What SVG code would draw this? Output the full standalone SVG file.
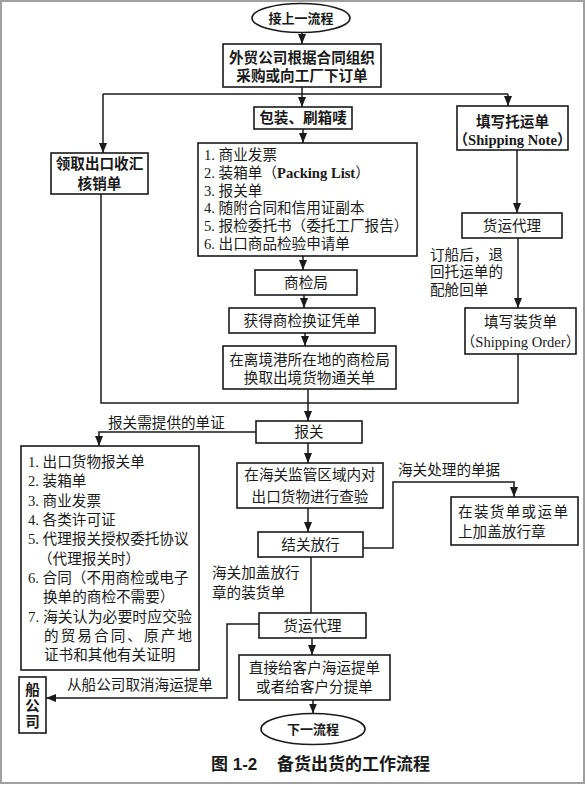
<svg xmlns="http://www.w3.org/2000/svg" width="585" height="785" viewBox="0 0 585 785">
<defs>
<marker id="ah" markerUnits="userSpaceOnUse" markerWidth="10" markerHeight="8" refX="10" refY="4" orient="auto">
<path d="M0,0 L10,4 L0,8 z" fill="#1a1a1a"/>
</marker>
<style>
.b{fill:#fff;stroke:#1a1a1a;stroke-width:1.6}
.ln{fill:none;stroke:#1a1a1a;stroke-width:1.5}
.ar{fill:none;stroke:#1a1a1a;stroke-width:1.5;marker-end:url(#ah)}
.t{font-family:"Liberation Serif","Noto Sans CJK SC",serif;font-size:14.6px;fill:#1a1a1a}
.c{text-anchor:middle}
.bd{font-weight:bold}
.e{font-family:"Noto Sans CJK SC",sans-serif;font-size:13px;font-weight:bold;fill:#1a1a1a;text-anchor:middle}
.cap{font-family:"Liberation Sans","Noto Sans CJK SC",sans-serif;font-size:17px;font-weight:bold;fill:#1a1a1a}
</style>
</defs>
<rect x="1" y="1" width="583" height="782" fill="#fff" stroke="#a0a0a0" stroke-width="2"/>

<g id="connectors">
<path class="ar" d="M302,32.5 V44"/>
<path class="ar" d="M302,87 V107"/>
<path class="ln" d="M103,94 H508"/>
<path class="ar" d="M103,94 V153"/>
<path class="ar" d="M508,94 V106"/>
<path class="ar" d="M303,129 V143"/>
<path class="ar" d="M303,256 V270"/>
<path class="ar" d="M304,295 V308"/>
<path class="ar" d="M305,333 V346"/>
<path class="ln" d="M101,194 V403 H518 V354"/>
<path class="ar" d="M308,389 V421"/>
<path class="ar" d="M517,150 V213"/>
<path class="ar" d="M518,238 V308"/>
<path class="ar" d="M256,432 H99 V446"/>
<path class="ar" d="M308,443 V463"/>
<path class="ar" d="M308,508 V532"/>
<path class="ar" d="M363,548 H393 V482 H514 V497"/>
<path class="ln" d="M311,557 V613"/>
<path class="ar" d="M259,624 H227 V698 H46"/>
<path class="ar" d="M312,638 V655"/>
<path class="ar" d="M313,700 V713.5"/>
</g>

<g id="start">
<ellipse class="b" cx="301" cy="18" rx="49" ry="14.5"/>
<text class="e" x="301" y="23">接上一流程</text>
</g>

<g id="order">
<rect class="b" x="223" y="44" width="158" height="43"/>
<text class="t c bd" x="302" y="63">外贸公司根据合同组织</text>
<text class="t c bd" x="302" y="81">采购或向工厂下订单</text>
</g>

<g id="pack">
<rect class="b" x="254" y="107" width="98" height="22"/>
<text class="t c bd" x="303" y="123">包装、刷箱唛</text>
</g>

<g id="shipnote">
<rect class="b" x="457" y="106" width="111" height="44"/>
<text class="t c bd" x="512.5" y="127">填写托运单</text>
<text class="t c bd" x="512.5" y="145">（Shipping Note）</text>
</g>

<g id="verification">
<rect class="b" x="51" y="153" width="97" height="41"/>
<text class="t c bd" x="99.5" y="169">领取出口收汇</text>
<text class="t c bd" x="99.5" y="189">核销单</text>
</g>

<g id="doclist">
<rect class="b" x="198" y="143" width="219" height="113"/>
<text class="t" x="204" y="160">1. 商业发票</text>
<text class="t" x="204" y="178">2. 装箱单（<tspan class="bd">Packing List</tspan>）</text>
<text class="t" x="204" y="196">3. 报关单</text>
<text class="t" x="204" y="213">4. 随附合同和信用证副本</text>
<text class="t" x="204" y="231">5. 报检委托书（委托工厂报告）</text>
<text class="t" x="204" y="249">6. 出口商品检验申请单</text>
</g>

<g id="ciq">
<rect class="b" x="255" y="270" width="102" height="25"/>
<text class="t c" x="306" y="288">商检局</text>
</g>

<g id="voucher">
<rect class="b" x="229" y="308" width="146" height="25"/>
<text class="t c" x="302" y="326">获得商检换证凭单</text>
</g>

<g id="clearance">
<rect class="b" x="223" y="346" width="173" height="43"/>
<text class="t c" x="309.5" y="365">在离境港所在地的商检局</text>
<text class="t c" x="309.5" y="383">换取出境货物通关单</text>
</g>

<g id="forwarder1">
<rect class="b" x="462" y="213" width="100" height="25"/>
<text class="t c" x="512" y="231">货运代理</text>
</g>

<g id="note1">
<text class="t" x="430" y="260">订船后，退</text>
<text class="t" x="430" y="277">回托运单的</text>
<text class="t" x="430" y="295">配舱回单</text>
</g>

<g id="shiporder">
<rect class="b" x="465" y="308" width="111" height="46"/>
<text class="t c" x="520.5" y="327">填写装货单</text>
<text class="t c" x="520.5" y="347">（Shipping Order）</text>
</g>

<g id="declare">
<rect class="b" x="256" y="421" width="106" height="22"/>
<text class="t c" x="309" y="437">报关</text>
</g>

<g id="label-docs">
<text class="t" x="108" y="428">报关需提供的单证</text>
</g>

<g id="declist">
<rect class="b" x="21" y="446" width="178" height="224"/>
<text class="t" x="28" y="467">1. 出口货物报关单</text>
<text class="t" x="28" y="486">2. 装箱单</text>
<text class="t" x="28" y="505.5">3. 商业发票</text>
<text class="t" x="28" y="525">4. 各类许可证</text>
<text class="t" x="28" y="544">5. 代理报关授权委托协议</text>
<text class="t" x="38" y="563.5">（代理报关时）</text>
<text class="t" x="28" y="583">6. 合同（不用商检或电子</text>
<text class="t" x="43" y="602">换单的商检不需要）</text>
<text class="t" x="28" y="621.5" textLength="164" lengthAdjust="spacingAndGlyphs">7. 海关认为必要时应交验</text>
<text class="t" x="44" y="641" textLength="148" lengthAdjust="spacing">的贸易合同、原产地</text>
<text class="t" x="44" y="660">证书和其他有关证明</text>
</g>

<g id="inspect">
<rect class="b" x="237" y="463" width="146" height="45"/>
<text class="t c" x="310" y="480">在海关监管区域内对</text>
<text class="t c" x="310" y="502">出口货物进行查验</text>
</g>

<g id="release">
<rect class="b" x="258" y="532" width="105" height="25"/>
<text class="t c" x="310.5" y="550">结关放行</text>
</g>

<g id="label-customs">
<text class="t" x="398" y="475">海关处理的单据</text>
</g>

<g id="stamp">
<rect class="b" x="451" y="497" width="127" height="48"/>
<text class="t" x="458" y="517" textLength="110" lengthAdjust="spacing">在装货单或运单</text>
<text class="t" x="458" y="537">上加盖放行章</text>
</g>

<g id="label-stamped">
<text class="t" x="212" y="578">海关加盖放行</text>
<text class="t" x="212" y="598">章的装货单</text>
</g>

<g id="forwarder2">
<rect class="b" x="259" y="613" width="107" height="25"/>
<text class="t c" x="312.5" y="631">货运代理</text>
</g>

<g id="bl">
<rect class="b" x="239" y="655" width="151" height="45"/>
<text class="t c" x="314.5" y="673">直接给客户海运提单</text>
<text class="t c" x="314.5" y="692">或者给客户分提单</text>
</g>

<g id="shipco">
<rect class="b" x="19" y="677" width="27" height="56"/>
<text class="t c bd" x="32.5" y="695">船</text>
<text class="t c bd" x="32.5" y="711">公</text>
<text class="t c bd" x="32.5" y="727">司</text>
</g>

<g id="label-cancel">
<text class="t" x="67" y="690">从船公司取消海运提单</text>
</g>

<g id="end">
<ellipse class="b" cx="313" cy="729" rx="52" ry="15.5"/>
<text class="e" x="313" y="734">下一流程</text>
</g>

<text class="cap" x="211" y="770">图 1-2<tspan x="277">备货出货的工作流程</tspan></text>
</svg>
